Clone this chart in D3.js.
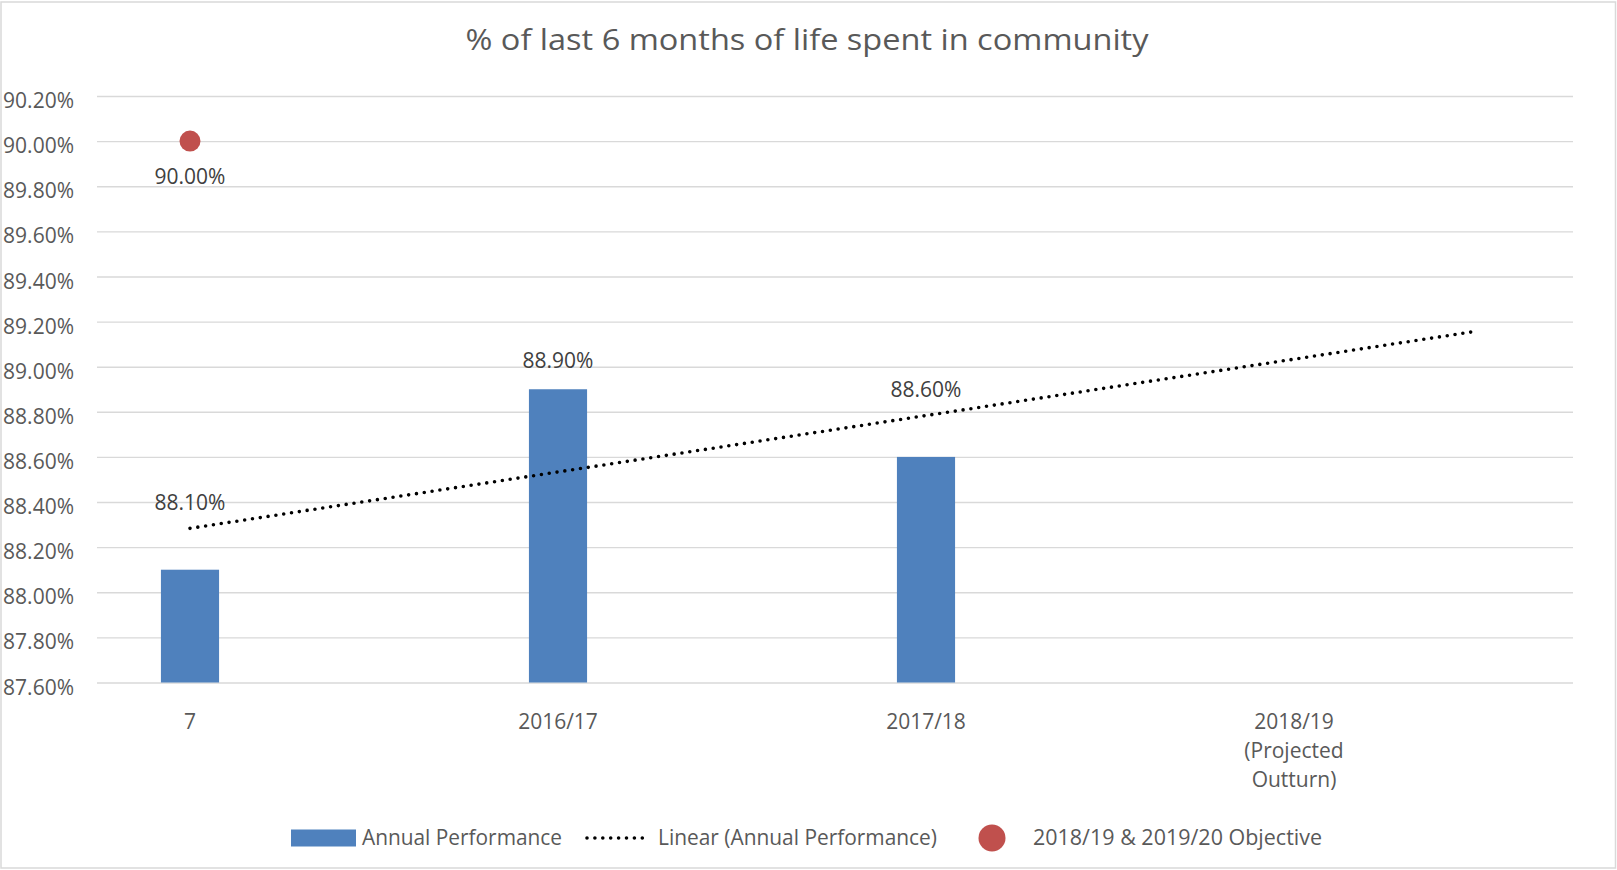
<!DOCTYPE html>
<html>
<head>
<meta charset="utf-8">
<script src="https://cdn.jsdelivr.net/npm/d3@7/dist/d3.min.js"></script>
<style>
  html, body { margin: 0; padding: 0; background: #fff; }
  svg { display: block; font-family: "Open Sans", "DejaVu Sans", sans-serif; }
</style>
</head>
<body>
<svg id="chart" width="1617" height="870"></svg>
<script>
// ---- data ----
const title = "% of last 6 months of life spent in community";
const categories = ["7", "2016/17", "2017/18", "2018/19 (Projected Outturn)"];
const categoryLines = [["7"], ["2016/17"], ["2017/18"], ["2018/19", "(Projected", "Outturn)"]];
const performance = [88.1, 88.9, 88.6, null];
const objective = [90.0, null, null, null];
const yTicks = [87.6, 87.8, 88.0, 88.2, 88.4, 88.6, 88.8, 89.0, 89.2, 89.4, 89.6, 89.8, 90.0, 90.2];
const legendLabels = ["Annual Performance", "Linear (Annual Performance)", "2018/19 & 2019/20 Objective"];

// ---- layout ----
const svg = d3.select("#chart");
const W = 1617, H = 870;
const gridLeft = 97, gridRight = 1573;
const y = d3.scaleLinear().domain([87.6, 90.2]).range([682.5, 96]);
const x = d3.scalePoint().domain(categories).range([6, 1478]).padding(0.5);
const step = x.step();
const barW = step * 0.158;
const fmt = v => v.toFixed(2) + "%";

// border
svg.append("rect").attr("x", 1).attr("y", 2).attr("width", W - 2.5).attr("height", H - 4)
  .attr("fill", "#fff").attr("stroke", "#D9D9D9").attr("stroke-width", 1.5);

// title
svg.append("text").attr("x", 807).attr("y", 50).attr("text-anchor", "middle")
  .attr("font-size", 30).attr("fill", "#595959")
  .attr("textLength", 683).attr("lengthAdjust", "spacingAndGlyphs")
  .text(title);

// gridlines
const yAxis = d3.axisLeft(y).tickValues(yTicks).tickFormat(fmt).tickSize(-(gridRight - gridLeft)).tickPadding(23);
const gy = svg.append("g").attr("transform", `translate(${gridLeft},0)`).call(yAxis);
gy.select(".domain").remove();
gy.selectAll(".tick line").attr("stroke", "#D9D9D9").attr("stroke-width", 1.4);
gy.selectAll(".tick text").attr("font-size", 21).attr("fill", "#595959")
  .attr("font-family", "'Open Sans', sans-serif").attr("dy", "0.55em");

// bars
const barData = categories.map((c, i) => ({c, v: performance[i]})).filter(d => d.v != null);
svg.append("g").selectAll("rect").data(barData).join("rect")
  .attr("x", d => x(d.c) - barW / 2)
  .attr("width", barW)
  .attr("y", d => y(d.v))
  .attr("height", d => y(87.6) - y(d.v))
  .attr("fill", "#4F81BD");

// bar labels (manually placed in original)
const labelLift = {"7": 67, "2016/17": 29, "2017/18": 67};
svg.append("g").selectAll("text").data(barData).join("text")
  .attr("x", d => x(d.c))
  .attr("y", d => y(d.v) - labelLift[d.c])
  .attr("dy", "0.35em")
  .attr("text-anchor", "middle").attr("font-size", 21).attr("fill", "#404040")
  .text(d => fmt(d.v));

// linear trendline (least squares over performance values, forecast forward 0.5 period)
const pts = performance.map((v, i) => ({i: i + 1, v})).filter(d => d.v != null);
const mx = d3.mean(pts, d => d.i), my = d3.mean(pts, d => d.v);
const slope = d3.sum(pts, d => (d.i - mx) * (d.v - my)) / d3.sum(pts, d => (d.i - mx) ** 2);
const intercept = my - slope * mx;
const idxToX = d3.scaleLinear().domain([1, categories.length]).range([x(categories[0]), x(categories[categories.length - 1])]);
const t0 = 1, t1 = categories.length + 0.5;
svg.append("path")
  .attr("d", d3.line()([[idxToX(t0), y(intercept + slope * t0)], [idxToX(t1), y(intercept + slope * t1)]]))
  .attr("stroke", "#000").attr("stroke-width", 3.6).attr("stroke-linecap", "round")
  .attr("stroke-dasharray", "0 7.9").attr("fill", "none");

// objective point
const objData = categories.map((c, i) => ({c, v: objective[i]})).filter(d => d.v != null);
svg.append("g").selectAll("circle").data(objData).join("circle")
  .attr("cx", d => x(d.c)).attr("cy", d => y(d.v)).attr("r", 10.5).attr("fill", "#C0504D");
svg.append("g").selectAll("text").data(objData).join("text")
  .attr("x", d => x(d.c)).attr("y", d => y(d.v) + 36).attr("dy", "0.35em")
  .attr("text-anchor", "middle").attr("font-size", 21).attr("fill", "#404040")
  .text(d => fmt(d.v));

// category labels
const gx = svg.append("g");
categories.forEach((c, i) => {
  const t = gx.append("text").attr("x", x(c)).attr("y", 722).attr("text-anchor", "middle")
    .attr("font-size", 21).attr("fill", "#595959");
  categoryLines[i].forEach((line, j) => {
    t.append("tspan").attr("x", x(c)).attr("y", 722 + j * 29).attr("dy", "0.35em").text(line);
  });
});

// legend
const ly = 838;
const lg = svg.append("g");
lg.append("rect").attr("x", 291).attr("y", ly - 8.5).attr("width", 65).attr("height", 17).attr("fill", "#4F81BD");
lg.append("text").attr("x", 362).attr("y", ly).attr("dy", "0.35em").attr("font-size", 21).attr("fill", "#595959")
  .attr("textLength", 200).attr("lengthAdjust", "spacingAndGlyphs").text(legendLabels[0]);
lg.append("line").attr("x1", 587).attr("x2", 647).attr("y1", ly).attr("y2", ly)
  .attr("stroke", "#000").attr("stroke-width", 3.6).attr("stroke-linecap", "round").attr("stroke-dasharray", "0 7.9");
lg.append("text").attr("x", 658).attr("y", ly).attr("dy", "0.35em").attr("font-size", 21).attr("fill", "#595959")
  .attr("textLength", 279).attr("lengthAdjust", "spacingAndGlyphs").text(legendLabels[1]);
lg.append("circle").attr("cx", 992).attr("cy", ly).attr("r", 13.5).attr("fill", "#C0504D");
lg.append("text").attr("x", 1033).attr("y", ly).attr("dy", "0.35em").attr("font-size", 21).attr("fill", "#595959")
  .attr("textLength", 289).attr("lengthAdjust", "spacingAndGlyphs").text(legendLabels[2]);
</script>
</body>
</html>
